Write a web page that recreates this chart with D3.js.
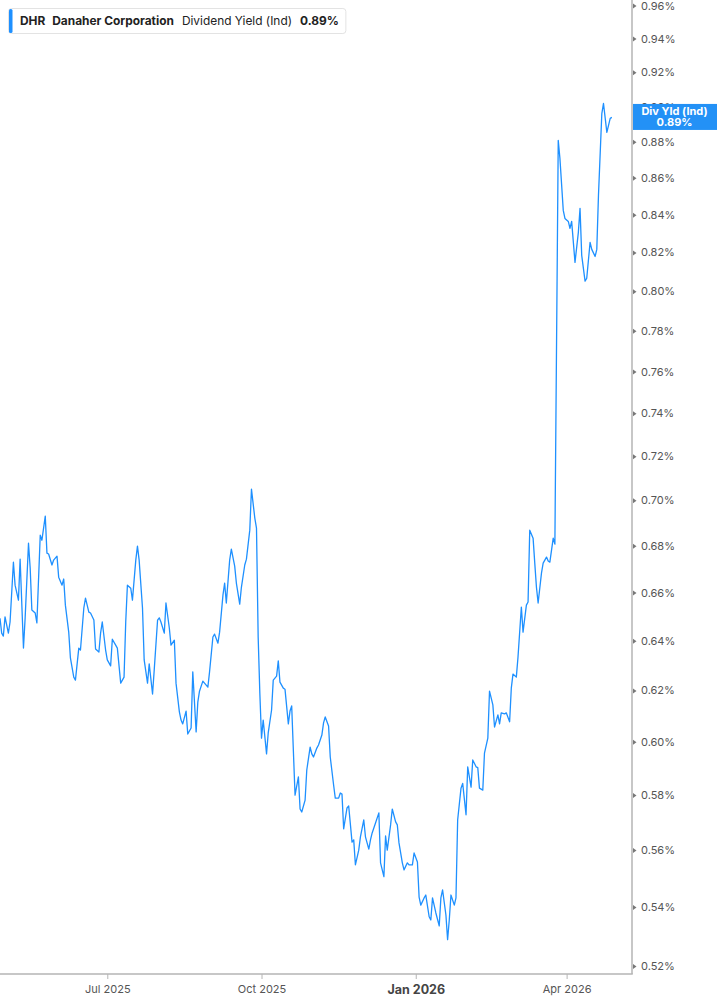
<!DOCTYPE html>
<html><head><meta charset="utf-8">
<script src="https://cdn.jsdelivr.net/npm/d3@7"></script>
<style>body{margin:0;background:#fff;} svg{display:block;font-family:Inter,"Noto Sans",sans-serif;}</style>
</head><body><svg id="c" width="717" height="1005"></svg>
<script>
const ticker = "DHR";
const company = "Danaher Corporation";
const metric = "Dividend Yield (Ind)";
const metricShort = "Div Yld (Ind)";

const dates = [
"2025-04-28","2025-04-29","2025-04-30","2025-05-01","2025-05-03","2025-05-04","2025-05-06","2025-05-07","2025-05-09","2025-05-10",
"2025-05-12","2025-05-13","2025-05-15","2025-05-16","2025-05-17","2025-05-19","2025-05-20","2025-05-22","2025-05-23","2025-05-25",
"2025-05-26","2025-05-27","2025-05-29","2025-05-30","2025-06-01","2025-06-02","2025-06-04","2025-06-05","2025-06-06","2025-06-08",
"2025-06-09","2025-06-11","2025-06-12","2025-06-14","2025-06-15","2025-06-17","2025-06-18","2025-06-20","2025-06-21","2025-06-23",
"2025-06-24","2025-06-26","2025-06-27","2025-06-28","2025-06-30","2025-07-01","2025-07-03","2025-07-04","2025-07-06","2025-07-07",
"2025-07-09","2025-07-10","2025-07-11","2025-07-12","2025-07-13","2025-07-15","2025-07-16","2025-07-18","2025-07-19","2025-07-20",
"2025-07-22","2025-07-23","2025-07-25","2025-07-26","2025-07-28","2025-07-29","2025-07-31","2025-08-01","2025-08-02","2025-08-04",
"2025-08-05","2025-08-07","2025-08-08","2025-08-10","2025-08-11","2025-08-13","2025-08-14","2025-08-15","2025-08-17","2025-08-18",
"2025-08-20","2025-08-21","2025-08-23","2025-08-24","2025-08-25","2025-08-27","2025-08-28","2025-08-30","2025-08-31","2025-09-02",
"2025-09-03","2025-09-05","2025-09-06","2025-09-08","2025-09-09","2025-09-10","2025-09-12","2025-09-13","2025-09-15","2025-09-16",
"2025-09-18","2025-09-19","2025-09-21","2025-09-22","2025-09-24","2025-09-25","2025-09-27","2025-09-28","2025-09-29","2025-09-30",
"2025-10-01","2025-10-02","2025-10-04","2025-10-05","2025-10-07","2025-10-08","2025-10-10","2025-10-11","2025-10-12","2025-10-14",
"2025-10-15","2025-10-17","2025-10-18","2025-10-19","2025-10-21","2025-10-23","2025-10-24","2025-10-25","2025-10-27","2025-10-28",
"2025-10-30","2025-10-31","2025-11-01","2025-11-03","2025-11-04","2025-11-06","2025-11-07","2025-11-08","2025-11-10","2025-11-11",
"2025-11-13","2025-11-14","2025-11-16","2025-11-17","2025-11-18","2025-11-19","2025-11-21","2025-11-22","2025-11-24","2025-11-25",
"2025-11-26","2025-11-28","2025-11-29","2025-12-01","2025-12-02","2025-12-04","2025-12-05","2025-12-06","2025-12-08","2025-12-10",
"2025-12-11","2025-12-13","2025-12-14","2025-12-15","2025-12-17","2025-12-18","2025-12-20","2025-12-21","2025-12-22","2025-12-24",
"2025-12-25","2025-12-27","2025-12-28","2025-12-30","2025-12-31","2026-01-02","2026-01-03","2026-01-04","2026-01-06","2026-01-07",
"2026-01-09","2026-01-10","2026-01-11","2026-01-13","2026-01-15","2026-01-16","2026-01-17","2026-01-19","2026-01-20","2026-01-21",
"2026-01-22","2026-01-24","2026-01-25","2026-01-26","2026-01-28","2026-01-29","2026-01-31","2026-02-01","2026-02-03","2026-02-04",
"2026-02-06","2026-02-07","2026-02-08","2026-02-10","2026-02-11","2026-02-13","2026-02-14","2026-02-16","2026-02-17","2026-02-19",
"2026-02-20","2026-02-21","2026-02-23","2026-02-24","2026-02-26","2026-02-27","2026-02-28","2026-03-02","2026-03-03","2026-03-05",
"2026-03-06","2026-03-08","2026-03-09","2026-03-10","2026-03-12","2026-03-13","2026-03-14","2026-03-15","2026-03-17","2026-03-18",
"2026-03-20","2026-03-21","2026-03-22","2026-03-24","2026-03-25","2026-03-27","2026-03-28","2026-03-30","2026-03-31","2026-04-02",
"2026-04-03","2026-04-04","2026-04-06","2026-04-08","2026-04-09","2026-04-10","2026-04-12","2026-04-13","2026-04-15","2026-04-16",
"2026-04-18","2026-04-19","2026-04-20","2026-04-22","2026-04-23","2026-04-25","2026-04-27","2026-04-28"
];

const yieldValues = [
0.6492,0.6431,0.6419,0.6498,0.6431,0.6477,0.6729,0.6631,0.6568,0.6742,
0.6370,0.6494,0.6811,0.6704,0.6527,0.6514,0.6473,0.6846,0.6824,0.6930,
0.6768,0.6764,0.6717,0.6738,0.6755,0.6665,0.6631,0.6657,0.6547,0.6435,
0.6330,0.6253,0.6241,0.6370,0.6362,0.6535,0.6576,0.6518,0.6514,0.6485,
0.6366,0.6354,0.6431,0.6477,0.6362,0.6322,0.6298,0.6406,0.6382,0.6370,
0.6229,0.6241,0.6253,0.6477,0.6631,0.6618,0.6568,0.6738,0.6798,0.6738,
0.6535,0.6322,0.6229,0.6306,0.6186,0.6282,0.6485,0.6494,0.6477,0.6431,
0.6556,0.6452,0.6382,0.6402,0.6229,0.6116,0.6084,0.6069,0.6119,0.6030,
0.6053,0.6274,0.6038,0.6154,0.6197,0.6237,0.6229,0.6213,0.6274,0.6415,
0.6427,0.6390,0.6435,0.6589,0.6640,0.6556,0.6738,0.6785,0.6712,0.6640,
0.6551,0.6622,0.6717,0.6742,0.6868,0.7050,0.6921,0.6877,0.6415,0.6189,
0.6014,0.6084,0.5954,0.6034,0.6123,0.6241,0.6257,0.6318,0.6233,0.6209,
0.6205,0.6069,0.6119,0.6139,0.5799,0.5867,0.5748,0.5737,0.5781,0.5893,
0.5980,0.5954,0.5942,0.5976,0.5988,0.6026,0.6073,0.6096,0.6061,0.5942,
0.5837,0.5788,0.5788,0.5807,0.5803,0.5676,0.5752,0.5759,0.5628,0.5636,
0.5547,0.5599,0.5647,0.5708,0.5647,0.5603,0.5636,0.5661,0.5697,0.5734,
0.5554,0.5505,0.5650,0.5599,0.5690,0.5748,0.5701,0.5690,0.5625,0.5554,
0.5529,0.5554,0.5547,0.5547,0.5589,0.5557,0.5434,0.5406,0.5431,0.5441,
0.5366,0.5355,0.5431,0.5379,0.5335,0.5431,0.5459,0.5372,0.5288,0.5355,
0.5441,0.5406,0.5431,0.5708,0.5825,0.5843,0.5727,0.5905,0.5829,0.5931,
0.5905,0.5902,0.5825,0.5818,0.5957,0.6014,0.6197,0.6143,0.6057,0.6104,
0.6069,0.6112,0.6108,0.6112,0.6077,0.6209,0.6265,0.6253,0.6334,0.6539,
0.6435,0.6547,0.6560,0.6868,0.6833,0.6725,0.6622,0.6556,0.6682,0.6725,
0.6751,0.6734,0.6729,0.6833,0.6807,0.8808,0.8708,0.8423,0.8380,0.8364,
0.8327,0.8364,0.8148,0.8306,0.8434,0.8185,0.8051,0.8066,0.8253,0.8216,
0.8179,0.8216,0.8505,0.8960,0.9018,0.8853,0.8933,0.8938
];

const yTickValues = [0.52,0.54,0.56,0.58,0.60,0.62,0.64,0.66,0.68,0.70,0.72,0.74,0.76,0.78,0.80,0.82,0.84,0.86,0.88,0.90,0.92,0.94,0.96];
const xTickDates = ["2025-07-01","2025-10-01","2026-01-01","2026-04-01"];
const xTickLabels = ["Jul 2025","Oct 2025","Jan 2026","Apr 2026"];
const xDomain = ["2025-04-28","2026-05-10"];
const yDomain = [0.52,0.96];

const parse = d3.timeParse("%Y-%m-%d");
const data = dates.map((d,i)=>({date:parse(d), v:yieldValues[i]}));

const W = 717, H = 1005;
const plotRight = 632, plotBottom = 974;
const svg = d3.select("#c");

const x = d3.scaleTime().domain(xDomain.map(parse)).range([0, plotRight]);
const y = d3.scaleLog().domain(yDomain).range([966, 5.5]);

const lineColor = "#1e90ff";
const axisColor = "#b5b5b5";
const labelColor = "#555";

svg.append("defs").append("clipPath").attr("id","clip")
  .append("rect").attr("x",0).attr("y",0).attr("width",plotRight).attr("height",plotBottom);

svg.append("path").datum(data)
  .attr("clip-path","url(#clip)")
  .attr("fill","none").attr("stroke",lineColor).attr("stroke-width",1.3)
  .attr("stroke-linejoin","round")
  .attr("d", d3.line().x(d=>x(d.date)).y(d=>y(d.v)));

const yAxis = d3.axisRight(y).tickValues(yTickValues).tickSize(0).tickPadding(9)
  .tickFormat(d=>d3.format(".2f")(d)+"%");
const gy = svg.append("g").attr("transform",`translate(${plotRight},0)`).call(yAxis);
gy.select(".domain").remove();
gy.selectAll("text").attr("fill",labelColor).attr("font-size",11).attr("font-family","Inter, sans-serif");
gy.selectAll(".tick").append("path").attr("d","M1,-2.5L4.5,0L1,2.5Z").attr("fill","#777");
svg.append("line").attr("x1",plotRight).attr("x2",plotRight).attr("y1",0).attr("y2",plotBottom)
  .attr("stroke",axisColor).attr("stroke-width",1.5);

const xAxis = d3.axisBottom(x).tickValues(xTickDates.map(parse)).tickSize(5).tickPadding(6)
  .tickFormat((d,i)=>xTickLabels[i]);
const gx = svg.append("g").attr("transform",`translate(0,${plotBottom})`).call(xAxis);
gx.select(".domain").remove();
gx.selectAll("line").attr("stroke",axisColor);
gx.selectAll("text").attr("fill",labelColor).attr("font-size",11).attr("font-family","Inter, sans-serif")
  .filter((d,i)=>xTickLabels[i].startsWith("Jan"))
  .attr("font-weight","bold").attr("font-size",12.5).attr("fill","#444");
svg.append("line").attr("x1",0).attr("x2",plotRight+0.75).attr("y1",plotBottom).attr("y2",plotBottom)
  .attr("stroke",axisColor).attr("stroke-width",1.5);

const last = data[data.length-1];
const ly = y(last.v);
const tag = svg.append("g");
tag.append("rect").attr("x",plotRight+1).attr("y",ly-13.5).attr("width",W-plotRight-1).attr("height",26).attr("fill","#2391f6");
tag.append("text").attr("x",(plotRight+W)/2).attr("y",ly-5).attr("text-anchor","middle").attr("dominant-baseline","middle")
  .attr("fill","#fff").attr("font-weight","bold").attr("font-size",11).text(metricShort);
tag.append("text").attr("x",(plotRight+W)/2).attr("y",ly+6).attr("text-anchor","middle").attr("dominant-baseline","middle")
  .attr("fill","#fff").attr("font-weight","bold").attr("font-size",11).text(d3.format(".2f")(last.v)+"%");

const lg = svg.append("g");
const box = lg.append("rect").attr("x",8.5).attr("y",8.5).attr("height",25).attr("rx",3)
  .attr("fill","#fff").attr("stroke","#e3e3e3");
lg.append("rect").attr("x",9).attr("y",9).attr("width",3.5).attr("height",24).attr("rx",1.5).attr("fill",lineColor);
const parts = [
  {t:ticker, w:"bold", gap:7},
  {t:company, w:"bold", gap:8},
  {t:metric, w:"normal", gap:8},
  {t:d3.format(".2f")(last.v)+"%", w:"bold", gap:7}
];
let cx = 20;
parts.forEach(p=>{
  const t = lg.append("text").attr("x",cx).attr("y",25).attr("font-size",11.9).attr("font-weight",p.w)
    .attr("fill","#222").text(p.t);
  cx += t.node().getComputedTextLength() + p.gap;
});
box.attr("width", cx - 8.5);
</script>
</body></html>
